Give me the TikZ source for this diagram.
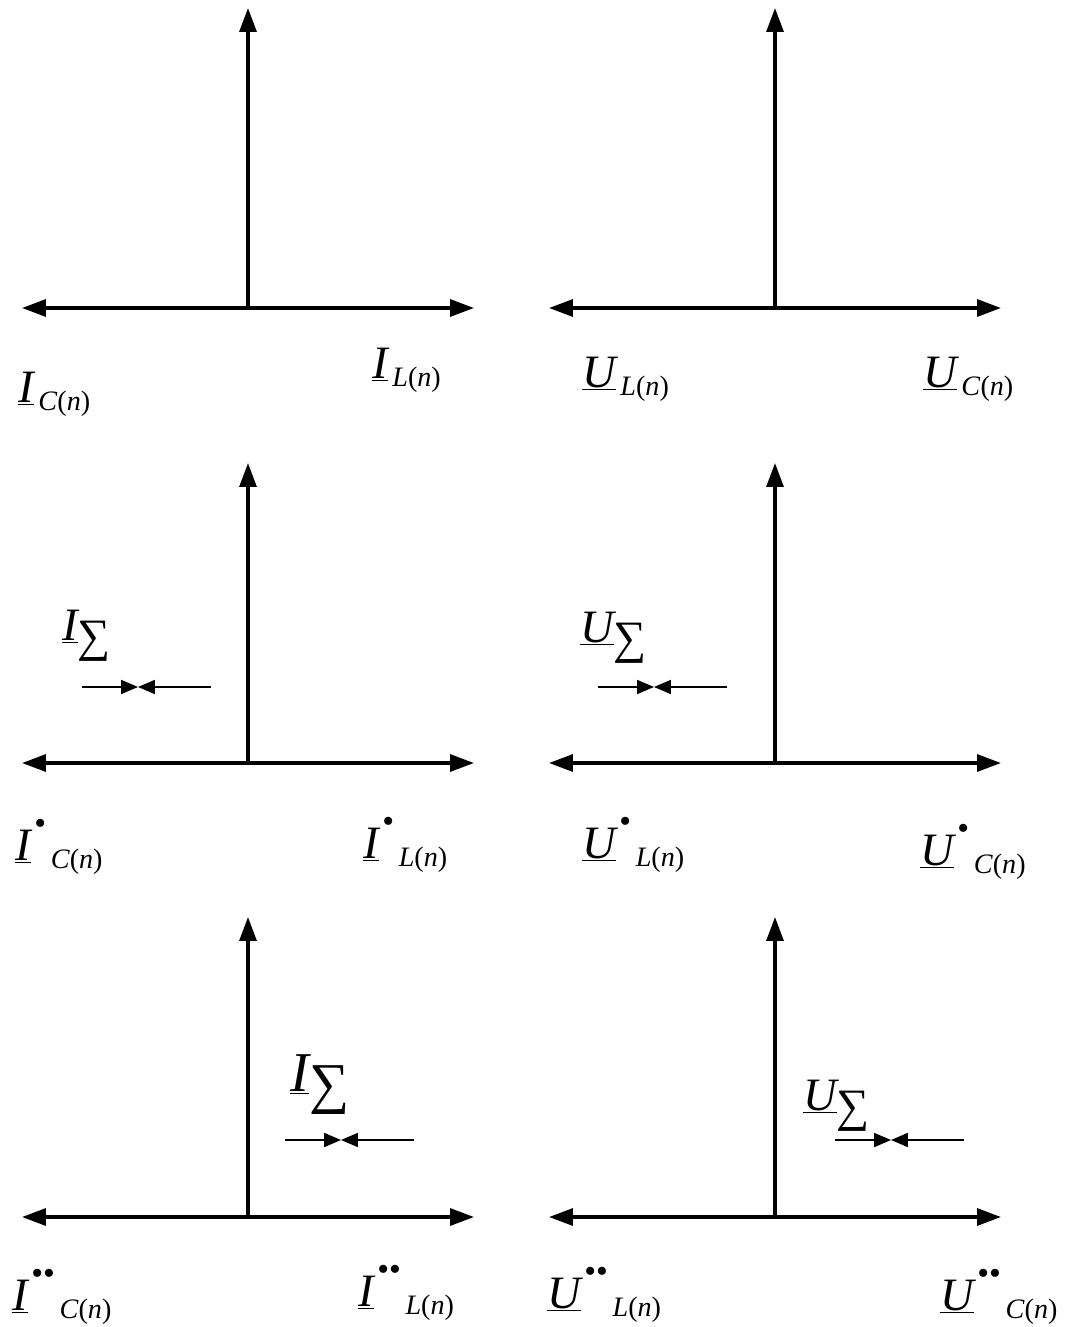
\documentclass[tikz,border=0pt]{standalone}
\usepackage{fontspec}
\setmainfont{Liberation Serif}
\usetikzlibrary{arrows.meta}
\newcommand{\phasor}[3]{{\itshape\underline{#1}}\if\relax\detokenize{#2}\relax\else\raisebox{18pt}{\fontsize{24}{24}\selectfont\hspace{2.5pt}#2}\fi\raisebox{-6pt}{\fontsize{20}{20}\selectfont\,\textit{#3}(\textit{n})}}
\newcommand{\sumlabel}[1]{{\itshape\underline{#1}}\raisebox{-8pt}{∑}}
\tikzset{
  >={Triangle[length=17pt,width=12pt]},
  axis/.style={line width=2.4pt},
  sumarrow/.style={line width=1pt,-{Triangle[length=12pt,width=10pt]}},
  lbl/.style={anchor=base west,inner sep=0pt,font=\fontsize{33}{35}\selectfont},
}
\begin{document}
\begin{tikzpicture}[x=0.025cm,y=-0.025cm]
    \useasboundingbox (0,0) rectangle (1076,1327);
    % axes
    \foreach \n/\x/\y in {a/248/308,b/775/308,c/248/763,d/775/763,e/248/1217,f/775/1217}{
      \coordinate (o\n) at (\x,\y);
      \coordinate (t\n) at (\x,\y-300);
      \coordinate (l\n) at (\x-226,\y);
      \coordinate (r\n) at (\x+226,\y);
      \draw[axis,->] (o\n) -- (t\n);
      \draw[axis,<->] (l\n) -- (r\n);
    }
    % resulting vectors
    \foreach \n/\x/\y in {c/82/687,d/598/687,e/285/1140,f/835/1140}{
      \coordinate (s\n) at (\x,\y);
      \coordinate (m\n) at (\x+56,\y);
      \coordinate (k\n) at (\x+129,\y);
      \draw[sumarrow] (s\n) -- (m\n);
      \draw[sumarrow] (k\n) -- (m\n);
    }
    \node[lbl] (sumc) at (62,640) {\sumlabel{I}};
    \node[lbl] (sumd) at (580,642) {\sumlabel{U}};
    \node[lbl,font=\fontsize{40}{42}\selectfont] (sume) at (290,1091) {\sumlabel{I}};
    \node[lbl] (sumf) at (803,1110) {\sumlabel{U}};
    % first row
    \node[lbl] (ica) at (18,402) {\phasor{I}{}{C}};
    \node[lbl] (ila) at (372,378) {\phasor{I}{}{L}};
    \node[lbl] (ulb) at (582,387) {\phasor{U}{}{L}};
    \node[lbl] (ucb) at (923,387) {\phasor{U}{}{C}};
    % second row
    \node[lbl] (icc) at (15,860) {\phasor{I}{•}{C}};
    \node[lbl] (ilc) at (363,858) {\phasor{I}{•}{L}};
    \node[lbl] (uld) at (582,858) {\phasor{U}{•}{L}};
    \node[lbl] (ucd) at (920,865) {\phasor{U}{•}{C}};
    % third row
    \node[lbl] (ice) at (12,1310) {\phasor{I}{••}{C}};
    \node[lbl] (ile) at (358,1306) {\phasor{I}{••}{L}};
    \node[lbl] (ulf) at (547,1308) {\phasor{U}{••}{L}};
    \node[lbl] (ucf) at (940,1310) {\phasor{U}{••}{C}};
\end{tikzpicture}
\end{document}
